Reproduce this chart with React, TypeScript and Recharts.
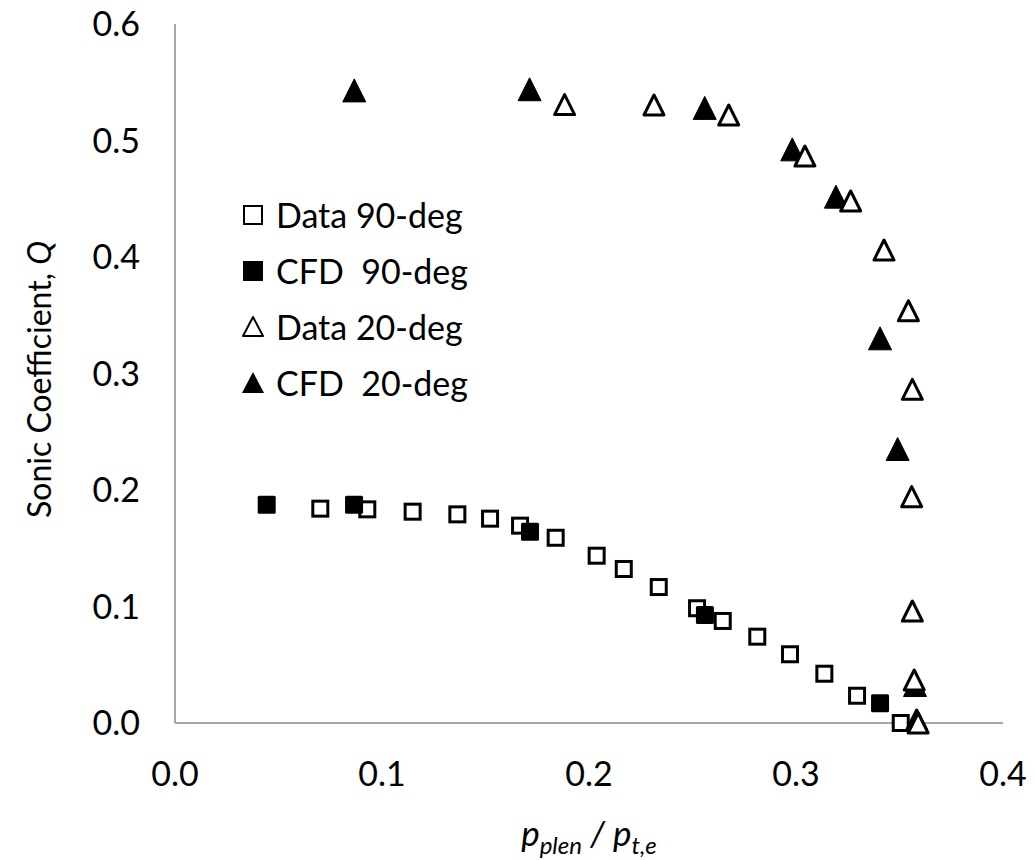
import React from "react";
import { ScatterChart, Scatter, XAxis, YAxis, Legend } from "recharts";

// x = p_plen / p_t,e, y = sonic coefficient Q
const data90X = [0.0702, 0.0929, 0.1148, 0.1364, 0.1522, 0.1667, 0.1839, 0.2037, 0.2168, 0.2337, 0.2522, 0.2646, 0.2813, 0.2971, 0.3137, 0.3295, 0.3506];
const data90Y = [0.184, 0.1834, 0.1814, 0.1791, 0.1754, 0.1694, 0.159, 0.1436, 0.1322, 0.1167, 0.0985, 0.0876, 0.0741, 0.059, 0.0423, 0.0234, 0.0];

const cfd90X = [0.0443, 0.0865, 0.1715, 0.256, 0.3406];
const cfd90Y = [0.1874, 0.1874, 0.1642, 0.0927, 0.0169];

const data20X = [0.1882, 0.2314, 0.2675, 0.3043, 0.3264, 0.3425, 0.3543, 0.3562, 0.3559, 0.3562, 0.3571, 0.3583, 0.359];
const data20Y = [0.5308, 0.5305, 0.5219, 0.4867, 0.4481, 0.406, 0.3539, 0.2864, 0.1943, 0.0961, 0.0369, 0.0026, 0.0];

const cfd20X = [0.0866, 0.1713, 0.2559, 0.2982, 0.3193, 0.3406, 0.3491, 0.3575];
const cfd20Y = [0.543, 0.544, 0.528, 0.4924, 0.4518, 0.3302, 0.2352, 0.0326];

const xTicks = [0, 0.1, 0.2, 0.3, 0.4];
const yTicks = [0, 0.1, 0.2, 0.3, 0.4, 0.5, 0.6];

const seriesNames = ["Data 90-deg", "CFD  90-deg", "Data 20-deg", "CFD  20-deg"];

const toPoints = (xs: number[], ys: number[]) => xs.map((x, i) => ({ x, y: ys[i] }));

const FONT = "Lato, 'Open Sans', sans-serif";
const AXIS_GREY = "#a6a6a6";

const OpenSquare = ({ cx, cy }: any) => (
  <rect x={cx - 7.5} y={cy - 7.5} width={15} height={15} fill="#fff" stroke="#000" strokeWidth={3} />
);
const FilledSquare = ({ cx, cy }: any) => (
  <rect x={cx - 9} y={cy - 9} width={18} height={18} rx={1.5} fill="#000" />
);
const OpenTriangle = ({ cx, cy }: any) => (
  <path
    d={`M${cx},${cy - 10} L${cx + 10},${cy + 10} L${cx - 10},${cy + 10} Z`}
    fill="#fff"
    stroke="#000"
    strokeWidth={3}
    strokeLinejoin="round"
  />
);
const FilledTriangle = ({ cx, cy }: any) => (
  <path
    d={`M${cx},${cy - 11.5} L${cx + 11.5},${cy + 11.5} L${cx - 11.5},${cy + 11.5} Z`}
    fill="#000"
    stroke="#000"
    strokeWidth={1}
    strokeLinejoin="round"
  />
);

// legend glyphs are a bit lighter than the plotted markers
const legendMarkers = [
  () => <rect x={4} y={4} width={18} height={18} fill="#fff" stroke="#000" strokeWidth={2} />,
  () => <rect x={3} y={3} width={20} height={20} fill="#000" />,
  () => <path d="M13,3 L23,22 L3,22 Z" fill="#fff" stroke="#000" strokeWidth={2} strokeLinejoin="round" />,
  () => <path d="M13,2 L24,23 L2,23 Z" fill="#000" />,
];

const LegendBox = () => (
  <div style={{ fontFamily: FONT, fontSize: 34, color: "#000", lineHeight: 1 }}>
    {seriesNames.map((name, i) => {
      const Marker = legendMarkers[i];
      return (
        <div key={name} style={{ display: "flex", alignItems: "center", height: 56 }}>
          <svg width={26} height={26} style={{ marginRight: 10 }}>
            <Marker />
          </svg>
          <span style={{ whiteSpace: "pre" }}>{name}</span>
        </div>
      );
    })}
  </div>
);

const YTitle = ({ viewBox }: any) => {
  const cy = viewBox.y + viewBox.height / 2 + 6;
  const x = 38;
  return (
    <text
      x={x}
      y={cy}
      transform={`rotate(-90, ${x}, ${cy})`}
      textAnchor="middle"
      dominantBaseline="central"
      fontFamily={FONT}
      fontSize={32}
      fill="#000"
    >
      Sonic Coefficient, <tspan fontStyle="italic">Q</tspan>
    </text>
  );
};

const XTitle = ({ viewBox }: any) => {
  const cx = viewBox.x + viewBox.width / 2;
  const y = 846;
  return (
    <text x={cx} y={y} textAnchor="middle" fontFamily={FONT} fontSize={35} fontStyle="italic" fill="#000">
      p
      <tspan fontSize={24} dy={8}>plen</tspan>
      <tspan dy={-8}> / p</tspan>
      <tspan fontSize={24} dy={8}>t,e</tspan>
    </text>
  );
};

const App = () => {
  return (
    <div style={{ position: "absolute", left: 0, top: 0, width: 1035, height: 860, background: "#fff" }}>
      <ScatterChart width={1035} height={860} margin={{ top: 24, right: 32, bottom: 77, left: 75 }}>
        <XAxis
          type="number"
          dataKey="x"
          domain={[0, 0.4]}
          ticks={xTicks}
          tickFormatter={(v: number) => v.toFixed(1)}
          axisLine={{ stroke: AXIS_GREY, strokeWidth: 2 }}
          tickLine={false}
          tickMargin={33}
          height={60}
          tick={{ fontFamily: FONT, fontSize: 34, fill: "#000" }}
          label={<XTitle />}
        />
        <YAxis
          type="number"
          dataKey="y"
          domain={[0, 0.6]}
          ticks={yTicks}
          tickFormatter={(v: number) => v.toFixed(1)}
          axisLine={{ stroke: AXIS_GREY, strokeWidth: 2 }}
          tickLine={false}
          tickMargin={29}
          width={100}
          tick={{ fontFamily: FONT, fontSize: 34, fill: "#000" }}
          label={<YTitle />}
        />
        <Legend
          layout="vertical"
          align="center"
          verticalAlign="middle"
          wrapperStyle={{ left: 240, top: 187, width: 280, height: 230 }}
          content={() => <LegendBox />}
        />
        <Scatter name={seriesNames[0]} data={toPoints(data90X, data90Y)} shape={<OpenSquare />} isAnimationActive={false} />
        <Scatter name={seriesNames[1]} data={toPoints(cfd90X, cfd90Y)} shape={<FilledSquare />} isAnimationActive={false} />
        <Scatter name={seriesNames[3]} data={toPoints(cfd20X, cfd20Y)} shape={<FilledTriangle />} isAnimationActive={false} />
        <Scatter name={seriesNames[2]} data={toPoints(data20X, data20Y)} shape={<OpenTriangle />} isAnimationActive={false} />
      </ScatterChart>
    </div>
  );
};

export default App;
